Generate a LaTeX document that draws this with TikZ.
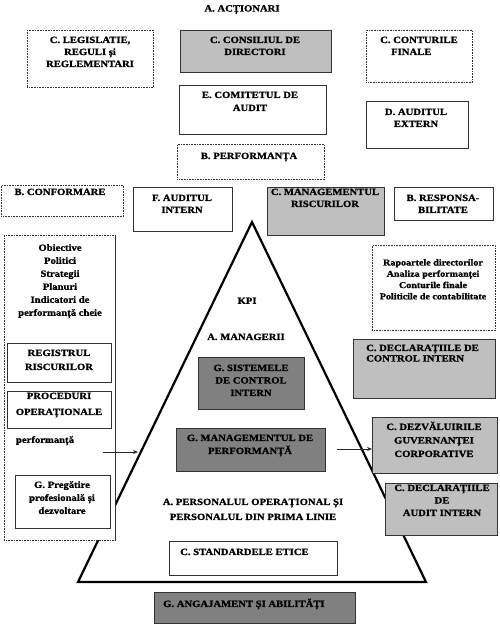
\documentclass[tikz,border=0pt]{standalone}
\usepackage{fontspec}
\setmainfont{Liberation Serif}[FakeStretch=1.12, BoldFeatures={FakeBold=1.2}]
\usetikzlibrary{arrows.meta}
\newcommand\mybox[6]{\node[#1, minimum width=#5pt, minimum height=#6pt] (#2) at (#3,#4) {};}
\begin{document}
\begin{tikzpicture}[x=1pt,y=-1pt,
  font=\fontsize{9.5}{12}\selectfont\bfseries,
  frame/.style={draw=black!80, line width=0.6pt, fill=white, inner sep=0pt, anchor=north west},
  dotframe/.style={frame, densely dotted},
  greyframe/.style={frame, fill=black!25},
  darkframe/.style={frame, fill=black!50},
  edge/.style={draw=black!80, line width=0.6pt},
  lbl/.style={align=center, inner sep=0pt, anchor=north},
  lbll/.style={align=left, inner sep=0pt, anchor=north west},
  sp/.style={font=\fontsize{9.5}{#1}\selectfont\bfseries},
  tri/.style={line width=2.2pt, line join=miter},
  conn/.style={draw=black!85, line width=0.7pt, -{Stealth[length=5pt,width=4pt]}}
]
\useasboundingbox (0,0) rectangle (500,632);
% pyramid
\coordinate (apex) at (252,222);
\coordinate (br) at (426,582);
\coordinate (bl) at (78,582);
\draw[tri] (apex) -- (br) -- (bl) -- cycle;

\node[lbl] (act) at (242,5) {A. ACȚIONARI};

\mybox{dotframe}{leg}{27}{30}{126}{57}
\node[lbl] (leg-t) at (90,36.5) {C. LEGISLATIE,\\REGULI și\\REGLEMENTARI};

\mybox{greyframe}{cons}{180}{30}{151}{42}
\node[lbl] (cons-t) at (255,36.5) {C. CONSILIUL DE\\DIRECTORI};

\mybox{dotframe}{cont}{366}{30}{106}{52}
\node[lbll] (cont-t) at (380,36.5) {C. CONTURILE\\\hspace*{11pt}FINALE};

\mybox{frame}{com}{179}{85}{147}{49}
\node[lbl, sp=13] (com-t) at (250,91.5) {E. COMITETUL DE\\AUDIT};

\mybox{frame}{ext}{366}{101}{102}{47}
\node[lbl] (ext-t) at (416,108.5) {D. AUDITUL\\EXTERN};

\mybox{dotframe}{perf}{177}{144}{147}{35}
\node[lbl] (perf-t) at (249,152.5) {B. PERFORMANȚA};

\mybox{dotframe}{conf}{1}{185}{122}{31}
\node[lbl] (conf-t) at (60,188.5) {B. CONFORMARE};

\mybox{frame}{ai}{133}{187}{99}{44}
\node[lbl] (ai-t) at (182,194.5) {F. AUDITUL\\INTERN};

\mybox{greyframe}{mr}{267}{187}{117}{48}
\node[lbl] (mr-t) at (325,188.5) {C. MANAGEMENTUL\\RISCURILOR};

\mybox{frame}{resp}{394}{187}{99}{33}
\node[lbl] (resp-t) at (443,194.5) {B. RESPONSA-\\BILITATE};

% left column
\mybox{dotframe}{lcol}{4}{235}{111}{305}
\draw[edge] (lcol.north east) -- (lcol.south east);
\node[lbl, sp=13] (obj) at (60,244) {Obiective\\Politici\\Strategii\\Planuri\\Indicatori de\\performanță cheie};
\mybox{frame}{reg}{7}{343}{104}{39}
\node[lbl, sp=14] (reg-t) at (59,349.5) {REGISTRUL\\RISCURILOR};
\mybox{frame}{proc}{7}{391}{104}{37}
\node[lbl, sp=16] (proc-t) at (59,392.5) {PROCEDURI\\OPERAȚIONALE};
\node[lbl] (pf) at (45,436) {performanță};
\mybox{frame}{prep}{15}{475}{95}{53}
\node[lbl, sp=13] (prep-t) at (62,481) {G. Pregătire\\profesională și\\dezvoltare};

% right column
\mybox{dotframe}{rap}{372}{245}{123}{85}
\node[lbl, font=\fontsize{9}{11.3}\selectfont\bfseries] (rap-t) at (433,259) {Rapoartele directorilor\\Analiza performanței\\Conturile finale\\Politicile de contabilitate};
\mybox{greyframe}{dci}{353}{339}{142}{59}
\node[lbll, sp=10.5] (dci-t) at (366,344.5) {C. DECLARAȚIILE DE\\CONTROL INTERN};
\mybox{greyframe}{dez}{372}{417}{125}{56}
\node[lbl, sp=13.5] (dez-t) at (434,421.5) {C. DEZVĂLUIRILE\\GUVERNANȚEI\\CORPORATIVE};
\mybox{greyframe}{dai}{385}{483}{112}{52}
\node[lbl, sp=12.5] (dai-t) at (442,484.5) {C. DECLARAȚIILE\\DE\\AUDIT INTERN};

% inside pyramid
\node[lbl] (kpi) at (247,297.5) {KPI};
\node[lbl] (mgr) at (246,333.5) {A. MANAGERII};
\mybox{darkframe}{sis}{198}{357}{106}{52}
\node[lbl, sp=12.5] (sis-t) at (251,364.5) {G. SISTEMELE\\DE CONTROL\\INTERN};
\mybox{darkframe}{mp}{176}{428}{149}{43}
\node[lbl, sp=13] (mp-t) at (250,434.5) {G. MANAGEMENTUL DE\\PERFORMANȚĂ};
\node[lbl, sp=15] (pers) at (253,498.5) {A. PERSONALUL OPERAȚIONAL ȘI\\PERSONALUL DIN PRIMA LINIE};
\mybox{frame}{std}{169}{541}{168}{34}
\node[lbll] (std-t) at (180,548.5) {C. STANDARDELE ETICE};
\mybox{darkframe}{ang}{154}{592}{201}{31}
\node[lbll] (ang-t) at (163,598.5) {G. ANGAJAMENT ȘI ABILITĂȚI};

% connectors
\coordinate (la) at (103,452);
\coordinate (lb) at (138,452);
\draw[conn] (la) -- (lb);
\coordinate (ra) at (337,449);
\draw[conn] (ra) -- (dez.west |- ra);
\end{tikzpicture}
\end{document}
